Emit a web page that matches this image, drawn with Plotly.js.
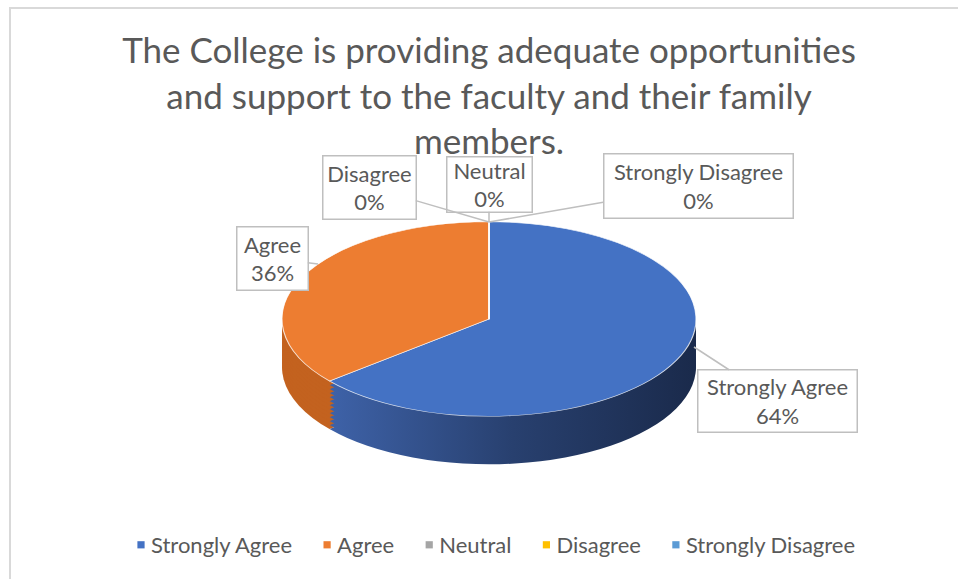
<!DOCTYPE html>
<html><head><meta charset="utf-8">
<script src="https://cdn.plot.ly/plotly-3.0.1.min.js"></script>
<style>html,body{margin:0;padding:0;background:#fff}#chart{width:958px;height:579px}</style>
</head><body><div id="chart"></div>
<script>
// ---- data ----
const categories = ['Strongly Agree', 'Agree', 'Neutral', 'Disagree', 'Strongly Disagree'];
const values = [64, 36, 0, 0, 0];
const percentLabels = ['64%', '36%', '0%', '0%', '0%'];
const topColors = ['#4472C4', '#ED7D31', '#A5A5A5', '#FFC000', '#5B9BD5'];
const sideColors = ['#2A4478', '#C3621F', '#7F7F7F', '#BF9000', '#41719C'];
const chartTitle = 'The College is providing adequate opportunities<br>and support to the faculty and their family<br>members.';

// ---- geometry (layout only) ----
const W = 958, H = 579;
const CX = 489, CY = 290, R = 207;
const TOP_CY = 319, SQUASH = 0.47, DEPTH = 48, LAYERS = 12;
const FONT = 'Lato, "Liberation Sans", sans-serif';
const TXT = '#595959';

const domain = {x: [(CX - R) / W, (CX + R) / W], y: [1 - (CY + R) / H, 1 - (CY - R) / H]};

const traces = [];
for (let i = 0; i < LAYERS; i++) {
  traces.push({
    type: 'pie', labels: categories, values: values, sort: false, direction: 'clockwise', rotation: 0,
    domain: domain, textinfo: 'none', hoverinfo: 'skip', showlegend: false,
    marker: {colors: sideColors, line: {width: 0}}
  });
}
traces.push({
  type: 'pie', labels: categories, values: values, sort: false, direction: 'clockwise', rotation: 0,
  domain: domain, textinfo: 'none', hoverinfo: 'label+percent', showlegend: true,
  marker: {colors: topColors, line: {color: 'rgba(255,255,255,0.8)', width: 1.2}}
});

// label boxes: [point on pie (px), box centre (px), box width, box height]
const labelPlace = [
  [[694, 347], [777, 401], 152, 55],
  [[318, 264], [272, 258], 64, 56],
  [[489, 222], [489, 184], 78, 48],
  [[489, 222], [369, 187], 86, 56],
  [[489, 222], [698, 186], 182, 57]
];
const annotations = categories.map((c, i) => {
  const p = labelPlace[i];
  return {
    xref: 'paper', yref: 'paper', x: p[0][0] / W, y: 1 - p[0][1] / H,
    axref: 'pixel', ayref: 'pixel', ax: p[1][0] - p[0][0], ay: p[1][1] - p[0][1],
    text: c + '<br>' + percentLabels[i], showarrow: true, arrowhead: 0, arrowwidth: 1.5, arrowcolor: '#BFBFBF',
    bordercolor: '#BFBFBF', borderwidth: 1.5, borderpad: 3, bgcolor: '#ffffff',
    width: p[2], height: p[3], align: 'center', valign: 'middle',
    font: {family: FONT, size: 22, color: TXT}
  };
});

const layout = {
  width: W, height: H, margin: {l: 0, r: 0, t: 0, b: 0},
  paper_bgcolor: '#ffffff', plot_bgcolor: '#ffffff',
  title: {text: chartTitle, x: 489 / W, xanchor: 'center', y: 1 - 63 / H, yanchor: 'top',
          font: {family: FONT, size: 35, color: TXT}},
  showlegend: true,
  legend: {orientation: 'h', x: 0.5 + 7 / W, xanchor: 'center', y: 1 - 545 / H, yanchor: 'middle',
           font: {family: FONT, size: 22, color: TXT}, itemwidth: 30, traceorder: 'normal'},
  annotations: annotations,
  shapes: [{type: 'rect', xref: 'paper', yref: 'paper', x0: 10 / W, x1: 1.02, y0: -0.02, y1: 1 - 8 / H,
            line: {color: '#D9D9D9', width: 2}, fillcolor: 'rgba(0,0,0,0)', layer: 'below'}]
};

Plotly.newPlot('chart', traces, layout, {staticPlot: true, displayModeBar: false}).then(gd => {
  const svg = gd.querySelector('svg.main-svg');
  const ns = 'http://www.w3.org/2000/svg';
  let defs = svg.querySelector('defs');
  const grad = document.createElementNS(ns, 'linearGradient');
  grad.setAttribute('id', 'sideBlueGrad');
  grad.setAttribute('x1', '0'); grad.setAttribute('x2', '1'); grad.setAttribute('y1', '0'); grad.setAttribute('y2', '0');
  [['0', '#3E62A8'], ['0.5', '#28406F'], ['1', '#1A2A4B']].forEach(s => {
    const st = document.createElementNS(ns, 'stop');
    st.setAttribute('offset', s[0]); st.setAttribute('stop-color', s[1]);
    grad.appendChild(st);
  });
  defs.appendChild(grad);

  const groups = gd.querySelectorAll('.pielayer .trace');
  groups.forEach((g, i) => {
    const off = i < LAYERS ? DEPTH * (LAYERS - i) / LAYERS : 0;
    g.setAttribute('transform', 'translate(0,' + (TOP_CY + off) + ') scale(1,' + SQUASH + ') translate(0,' + (-CY) + ')');
    if (i < LAYERS) {
      const paths = g.querySelectorAll('path.surface');
      if (paths[0]) paths[0].style.fill = 'url(#sideBlueGrad)';
    }
  });
  gd.querySelectorAll('.legend .legendpoints path').forEach(p => {
    p.setAttribute('transform', 'translate(30,0) scale(0.6)');
    p.style.strokeWidth = '0';
  });
});
</script>
</body></html>
